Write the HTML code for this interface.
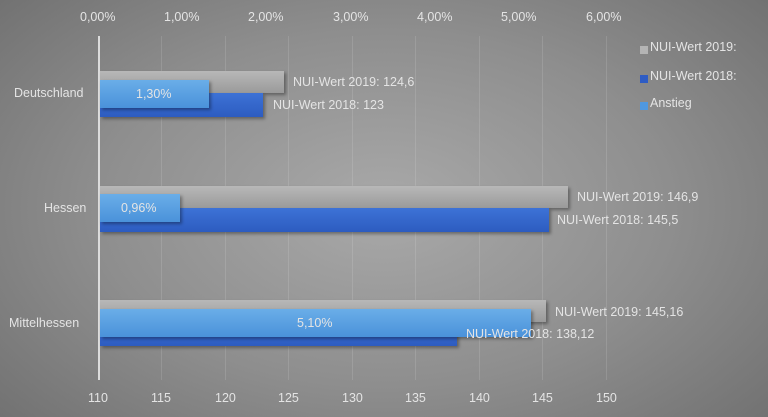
<!DOCTYPE html>
<html><head><meta charset="utf-8"><style>
html,body{margin:0;padding:0}
body{width:768px;height:417px;overflow:hidden;position:relative;font-family:"Liberation Sans",sans-serif;
background:radial-gradient(ellipse 75% 85% at 50% 50%,#a9a9a9 0%,#8e8e8e 50%,#6a6a6a 100%);}
.t{position:absolute;color:#e4e4e4;font-size:12.5px;white-space:nowrap}
.g{position:absolute;top:36px;width:1px;height:344px;background:rgba(255,255,255,0.12)}
.b{position:absolute;box-shadow:2px 2px 3px rgba(0,0,0,0.35)}
.gray{background:linear-gradient(#b8b8b8,#9a9a9a)}
.blue{background:linear-gradient(#3d72d6,#2d5cc0)}
.lb{background:linear-gradient(#6aaee8,#4a92da)}
.sq{position:absolute;width:8px;height:8px}
</style></head><body>
<div class="g" style="left:161px"></div><div class="g" style="left:225px"></div><div class="g" style="left:288px"></div><div class="g" style="left:352px"></div><div class="g" style="left:415px"></div><div class="g" style="left:479px"></div><div class="g" style="left:542px"></div><div class="g" style="left:606px"></div>
<div style="position:absolute;left:98px;top:36px;width:2px;height:344px;background:#dcdcdc"></div>

<div class="t" style="left:80px;top:10px">0,00%</div>
<div class="t" style="left:164px;top:10px">1,00%</div>
<div class="t" style="left:248px;top:10px">2,00%</div>
<div class="t" style="left:333px;top:10px">3,00%</div>
<div class="t" style="left:417px;top:10px">4,00%</div>
<div class="t" style="left:501px;top:10px">5,00%</div>
<div class="t" style="left:586px;top:10px">6,00%</div>

<div class="t" style="left:88px;top:391px">110</div>
<div class="t" style="left:151px;top:391px">115</div>
<div class="t" style="left:215px;top:391px">120</div>
<div class="t" style="left:278px;top:391px">125</div>
<div class="t" style="left:342px;top:391px">130</div>
<div class="t" style="left:405px;top:391px">135</div>
<div class="t" style="left:469px;top:391px">140</div>
<div class="t" style="left:532px;top:391px">145</div>
<div class="t" style="left:596px;top:391px">150</div>

<div class="t" style="left:14px;top:86px">Deutschland</div>
<div class="t" style="left:44px;top:201px">Hessen</div>
<div class="t" style="left:9px;top:316px">Mittelhessen</div>

<!-- Deutschland -->
<div class="b gray" style="left:100px;top:71px;width:184px;height:22px"></div>
<div class="b blue" style="left:100px;top:93px;width:163px;height:24px"></div>
<div class="b lb" style="left:100px;top:80px;width:109px;height:28px"></div>
<div class="t" style="left:136px;top:87px">1,30%</div>
<div class="t" style="left:293px;top:75px">NUI-Wert 2019: 124,6</div>
<div class="t" style="left:273px;top:98px">NUI-Wert 2018: 123</div>

<!-- Hessen -->
<div class="b gray" style="left:100px;top:186px;width:468px;height:22px"></div>
<div class="b blue" style="left:100px;top:208px;width:449px;height:24px"></div>
<div class="b lb" style="left:100px;top:194px;width:80px;height:28px"></div>
<div class="t" style="left:121px;top:201px">0,96%</div>
<div class="t" style="left:577px;top:190px">NUI-Wert 2019: 146,9</div>
<div class="t" style="left:557px;top:213px">NUI-Wert 2018: 145,5</div>

<!-- Mittelhessen -->
<div class="b gray" style="left:100px;top:300px;width:446px;height:22px"></div>
<div class="b blue" style="left:100px;top:322px;width:357px;height:24px"></div>
<div class="b lb" style="left:100px;top:309px;width:431px;height:28px"></div>
<div class="t" style="left:297px;top:316px">5,10%</div>
<div class="t" style="left:555px;top:305px">NUI-Wert 2019: 145,16</div>
<div class="t" style="left:466px;top:327px">NUI-Wert 2018: 138,12</div>

<!-- legend -->
<div class="sq" style="left:640px;top:46px;background:#b4b4b4"></div>
<div class="t" style="left:650px;top:40px">NUI-Wert 2019:</div>
<div class="sq" style="left:640px;top:75px;background:#2e5cc4"></div>
<div class="t" style="left:650px;top:69px">NUI-Wert 2018:</div>
<div class="sq" style="left:640px;top:102px;background:#4f98e0"></div>
<div class="t" style="left:650px;top:96px">Anstieg</div>
</body></html>
